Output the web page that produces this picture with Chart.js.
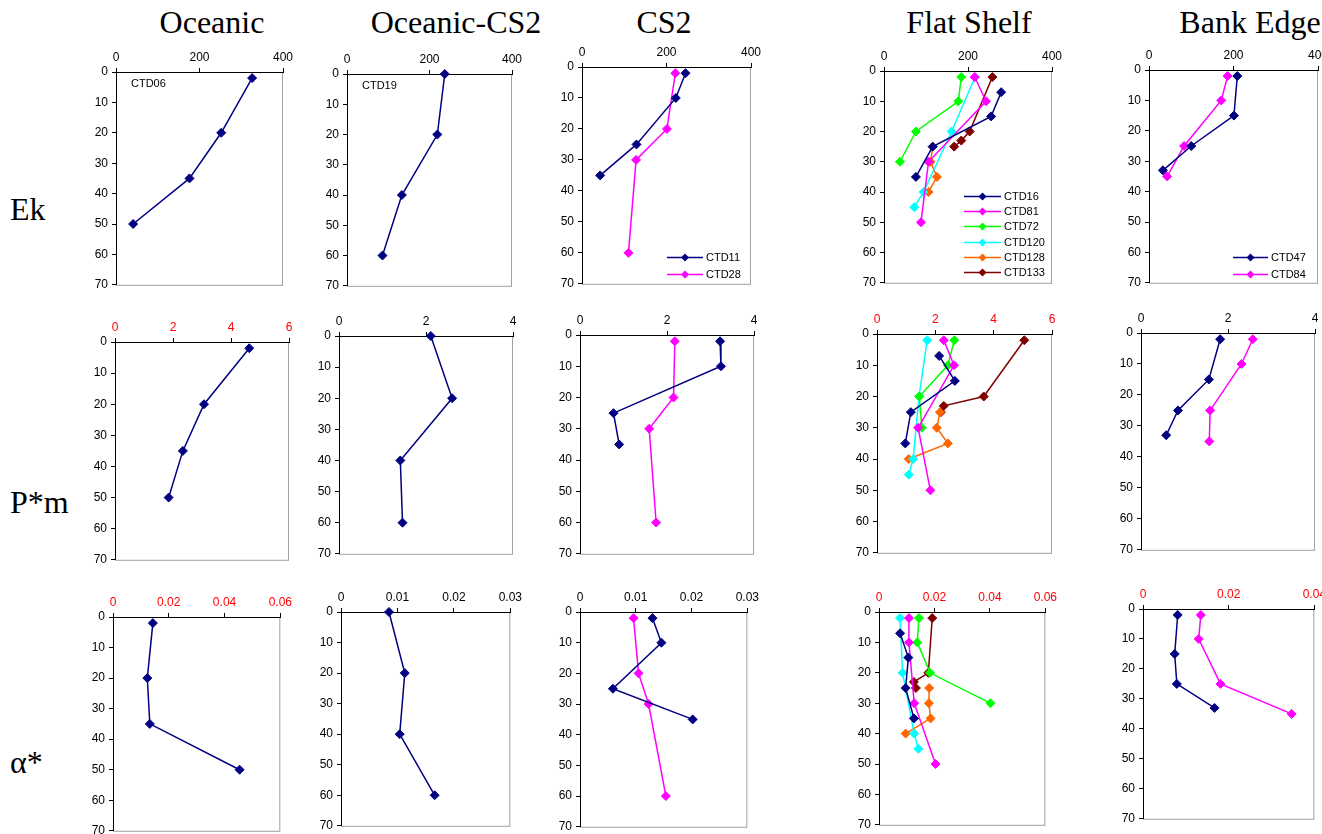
<!DOCTYPE html>
<html>
<head>
<meta charset="utf-8">
<script src="https://cdn.jsdelivr.net/npm/chart.js@4.4.1/dist/chart.umd.min.js"></script>
<style>
  body { margin: 0; background: #fff; width: 1322px; height: 834px; overflow: hidden; position: relative; }
  .panel { position: absolute; }
  .title, .rowlab {
    position: absolute; font-family: "Liberation Serif", "Times New Roman", serif;
    font-size: 32px; line-height: 1; color: #000; white-space: nowrap;
  }
  .title { transform: translateX(-50%); }
</style>
</head>
<body>
<div class="title" style="left:212px; top:6px">Oceanic</div>
<div class="title" style="left:456px; top:6px">Oceanic-CS2</div>
<div class="title" style="left:664px; top:6px">CS2</div>
<div class="title" style="left:969px; top:6px">Flat Shelf</div>
<div class="title" style="left:1250px; top:6px">Bank Edge</div>
<div class="rowlab" style="left:10px; top:193px">Ek</div>
<div class="rowlab" style="left:10px; top:486px">P*m</div>
<div class="rowlab" style="left:10px; top:746px">α*</div>

<script>
// sampling depths (m) for each station
const depthCTD06 = [2, 20, 35, 50];
const depthCTD19 = [0, 20, 40, 60];
const depthCTD11 = [2, 10, 25, 35];
const depthCTD28 = [2, 20, 30, 60];
const depthCTD16 = [7, 15, 25, 35];
const depthCTD81 = [2, 10, 30, 50];
const depthCTD72 = [2, 10, 20, 30];
const depthCTD120 = [2, 20, 40, 45];
const depthCTD128 = [25, 30, 35, 40];
const depthCTD133 = [2, 20, 23, 25];
const depthCTD47 = [2, 15, 25, 33];
const depthCTD84 = [2, 10, 25, 35];

// Ek
const ekCTD06 = [326, 252, 176, 41];
const ekCTD19 = [237, 219, 133, 86];
const ekCTD11 = [245, 222, 129, 43];
const ekCTD28 = [221, 201, 128, 110];
const ekCTD16 = [279, 255, 116, 76];
const ekCTD81 = [216, 243, 106, 88];
const ekCTD72 = [184, 177, 76, 38];
const ekCTD120 = [217, 161, 94, 72];
const ekCTD128 = [116, 111, 126, 106];
const ekCTD133 = [258, 204, 184, 167];
const ekCTD47 = [209, 201, 100, 33];
const ekCTD84 = [186, 171, 83, 43];

// P*m
const pmCTD06 = [4.63, 3.07, 2.34, 1.85];
const pmCTD19 = [2.11, 2.60, 1.41, 1.46];
const pmCTD11 = [3.22, 3.24, 0.77, 0.90];
const pmCTD28 = [2.18, 2.15, 1.59, 1.75];
const pmCTD16 = [2.13, 2.67, 1.16, 0.97];
const pmCTD81 = [2.29, 2.64, 1.41, 1.83];
const pmCTD72 = [2.65, 2.43, 1.45, 1.54];
const pmCTD120 = [1.72, 1.44, 1.24, 1.09];
const pmCTD128 = [2.16, 2.05, 2.43, 1.09];
const pmCTD133 = [5.05, 3.66, 2.29, 2.19];
const pmCTD47 = [1.82, 1.56, 0.85, 0.58];
const pmCTD84 = [2.57, 2.31, 1.59, 1.57];

// alpha*
const alCTD06 = [0.0143, 0.0123, 0.0132, 0.0454];
const alCTD19 = [0.0085, 0.0113, 0.0104, 0.0166];
const alCTD11 = [0.0130, 0.0146, 0.0059, 0.0202];
const alCTD28 = [0.0096, 0.0105, 0.0123, 0.0154];
const alCTD16 = [0.0076, 0.0106, 0.0096, 0.0126];
const alCTD81 = [0.0108, 0.0108, 0.0127, 0.0204];
const alCTD72 = [0.0144, 0.0138, 0.0184, 0.0402];
const alCTD120 = [0.0076, 0.0085, 0.0127, 0.0142];
const alCTD128 = [0.0181, 0.0180, 0.0186, 0.0096];
const alCTD133 = [0.0192, 0.0178, 0.0126, 0.0133];
const alCTD47 = [0.0081, 0.0074, 0.0079, 0.0167];
const alCTD84 = [0.0135, 0.0130, 0.0181, 0.0347];

const depthTicks = [0, 10, 20, 30, 40, 50, 60, 70];

const NAVY = '#000080', MAGENTA = '#ff00ff', GREEN = '#00ff00',
      CYAN = '#00ffff', ORANGE = '#ff6600', MAROON = '#800000';

const Y_W = 44, X_H = 24, PAD_R = 14, PAD_B = 8;

function series(label, depth, vals, color) {
    return { label, depth, vals, color };
}

// plot boxes are [left, top, right, bottom] of the plot area in page pixels
const panels = [
    { box: [116, 72, 283, 288], max: 400, step: 200, red: false, tag: 'CTD06',
      lines: [series('CTD06', depthCTD06, ekCTD06, NAVY)] },
    { box: [347, 74, 512, 289], max: 400, step: 200, red: false, tag: 'CTD19',
      lines: [series('CTD19', depthCTD19, ekCTD19, NAVY)] },
    { box: [582, 67, 751, 287], max: 400, step: 200, red: false,
      legend: { x: 85, y: 190, len: 36, gap: 17 },
      lines: [series('CTD11', depthCTD11, ekCTD11, NAVY), series('CTD28', depthCTD28, ekCTD28, MAGENTA)] },
    { box: [884, 71, 1052, 286], max: 400, step: 200, red: false,
      legend: { x: 80, y: 125, len: 37, gap: 15.2 },
      lines: [series('CTD16', depthCTD16, ekCTD16, NAVY), series('CTD81', depthCTD81, ekCTD81, MAGENTA),
              series('CTD72', depthCTD72, ekCTD72, GREEN), series('CTD120', depthCTD120, ekCTD120, CYAN),
              series('CTD128', depthCTD128, ekCTD128, ORANGE), series('CTD133', depthCTD133, ekCTD133, MAROON)] },
    { box: [1149, 70, 1318, 286], max: 400, step: 200, red: false,
      legend: { x: 84, y: 187, len: 35, gap: 17 },
      lines: [series('CTD47', depthCTD47, ekCTD47, NAVY), series('CTD84', depthCTD84, ekCTD84, MAGENTA)] },

    { box: [115, 342, 289, 563], max: 6, step: 2, red: true,
      lines: [series('CTD06', depthCTD06, pmCTD06, NAVY)] },
    { box: [339, 336, 513, 557], max: 4, step: 2, red: false,
      lines: [series('CTD19', depthCTD19, pmCTD19, NAVY)] },
    { box: [580, 335, 754, 557], max: 4, step: 2, red: false,
      lines: [series('CTD11', depthCTD11, pmCTD11, NAVY), series('CTD28', depthCTD28, pmCTD28, MAGENTA)] },
    { box: [877, 334, 1052, 556], max: 6, step: 2, red: true,
      lines: [series('CTD16', depthCTD16, pmCTD16, NAVY), series('CTD81', depthCTD81, pmCTD81, MAGENTA),
              series('CTD72', depthCTD72, pmCTD72, GREEN), series('CTD120', depthCTD120, pmCTD120, CYAN),
              series('CTD128', depthCTD128, pmCTD128, ORANGE), series('CTD133', depthCTD133, pmCTD133, MAROON)] },
    { box: [1141, 333, 1315, 553], max: 4, step: 2, red: false,
      lines: [series('CTD47', depthCTD47, pmCTD47, NAVY), series('CTD84', depthCTD84, pmCTD84, MAGENTA)] },

    { box: [113, 617, 281, 834], max: 0.06, step: 0.02, red: true,
      lines: [series('CTD06', depthCTD06, alCTD06, NAVY)] },
    { box: [341, 612, 511, 829], max: 0.03, step: 0.01, red: false,
      lines: [series('CTD19', depthCTD19, alCTD19, NAVY)] },
    { box: [580, 612, 748, 830], max: 0.03, step: 0.01, red: false,
      lines: [series('CTD11', depthCTD11, alCTD11, NAVY), series('CTD28', depthCTD28, alCTD28, MAGENTA)] },
    { box: [879, 612, 1046, 828], max: 0.06, step: 0.02, red: true,
      lines: [series('CTD16', depthCTD16, alCTD16, NAVY), series('CTD81', depthCTD81, alCTD81, MAGENTA),
              series('CTD72', depthCTD72, alCTD72, GREEN), series('CTD120', depthCTD120, alCTD120, CYAN),
              series('CTD128', depthCTD128, alCTD128, ORANGE), series('CTD133', depthCTD133, alCTD133, MAROON)] },
    { box: [1143, 609, 1315, 822], max: 0.04, step: 0.02, red: true,
      lines: [series('CTD47', depthCTD47, alCTD47, NAVY), series('CTD84', depthCTD84, alCTD84, MAGENTA)] }
];

const TICK_FONT = { family: '"Liberation Sans", Arial, sans-serif', size: 12 };
const SMALL_FONT = '11px "Liberation Sans", Arial, sans-serif';

function drawDiamond(ctx, x, y, r, color) {
    ctx.beginPath();
    ctx.moveTo(x - r, y);
    ctx.lineTo(x, y - r);
    ctx.lineTo(x + r, y);
    ctx.lineTo(x, y + r);
    ctx.closePath();
    ctx.fillStyle = color;
    ctx.fill();
}

// grey plot frame behind the black axes, plus the in-plot labels / legend
const framePlugin = {
    id: 'frame',
    beforeDraw(chart) {
        const { ctx, chartArea: a } = chart;
        ctx.save();
        ctx.strokeStyle = '#a0a0a0';
        ctx.lineWidth = 1;
        ctx.strokeRect(a.left + 0.5, a.top + 0.5, a.width - 1, a.height);
        ctx.restore();
    },
    afterDraw(chart, args, opts) {
        const { ctx, chartArea: a } = chart;
        ctx.save();
        ctx.font = SMALL_FONT;
        ctx.fillStyle = '#000';
        ctx.textBaseline = 'middle';
        if (opts.tag) {
            ctx.fillText(opts.tag, a.left + 15, a.top + 12);
        }
        if (opts.legend) {
            const lg = opts.legend;
            chart.data.datasets.forEach((ds, i) => {
                const y = Math.round(a.top + lg.y + i * lg.gap) + 0.5;
                const x0 = a.left + lg.x;
                ctx.strokeStyle = ds.borderColor;
                ctx.lineWidth = 1.5;
                ctx.beginPath();
                ctx.moveTo(x0, y);
                ctx.lineTo(x0 + lg.len, y);
                ctx.stroke();
                drawDiamond(ctx, x0 + lg.len / 2, y, 4, ds.borderColor);
                ctx.fillStyle = '#000';
                ctx.fillText(ds.label, x0 + lg.len + 3, y);
            });
        }
        ctx.restore();
    }
};

panels.forEach((p, idx) => {
    const [l, t, r, b] = p.box;
    const w = Y_W + (r - l) + PAD_R;
    const h = X_H + (b - t) + PAD_B;
    const holder = document.createElement('div');
    holder.className = 'panel';
    holder.style.left = (l - Y_W) + 'px';
    holder.style.top = (t - X_H) + 'px';
    const canvas = document.createElement('canvas');
    canvas.width = w;
    canvas.height = h;
    canvas.style.width = w + 'px';
    canvas.style.height = h + 'px';
    holder.appendChild(canvas);
    document.body.appendChild(holder);

    const datasets = p.lines.map(s => ({
        label: s.label,
        data: s.depth.map((d, i) => ({ x: s.vals[i], y: d })),
        borderColor: s.color,
        backgroundColor: s.color,
        borderWidth: 1.5,
        pointStyle: 'rectRot',
        pointRadius: 4.5,
        pointBorderWidth: 1,
        pointBackgroundColor: s.color,
        pointBorderColor: s.color,
        tension: 0,
        clip: false
    }));

    new Chart(canvas, {
        type: 'line',
        data: { datasets },
        plugins: [framePlugin],
        options: {
            responsive: false,
            animation: false,
            devicePixelRatio: 1,
            layout: { padding: { left: 0, top: 0, right: PAD_R, bottom: PAD_B } },
            plugins: {
                legend: { display: false },
                tooltip: { enabled: false },
                frame: { tag: p.tag, legend: p.legend }
            },
            scales: {
                x: {
                    type: 'linear',
                    position: 'top',
                    min: 0,
                    max: p.max,
                    afterFit: sc => { sc.height = X_H; },
                    ticks: {
                        stepSize: p.step,
                        color: p.red ? '#ff0000' : '#000',
                        font: TICK_FONT,
                        padding: 3,
                        maxRotation: 0,
                        callback: v => String(+Number(v).toFixed(3))
                    },
                    grid: { drawOnChartArea: false, drawTicks: true, tickLength: 4, color: '#000' },
                    border: { display: true, color: '#000', width: 1 }
                },
                y: {
                    type: 'linear',
                    reverse: true,
                    min: 0,
                    max: 70,
                    afterFit: sc => { sc.width = Y_W; },
                    afterBuildTicks: sc => { sc.ticks = depthTicks.map(v => ({ value: v })); },
                    ticks: { color: '#000', font: TICK_FONT, padding: 4 },
                    grid: { drawOnChartArea: false, drawTicks: true, tickLength: 4, color: '#000' },
                    border: { display: true, color: '#000', width: 1 }
                }
            }
        }
    });
});
</script>
</body>
</html>
